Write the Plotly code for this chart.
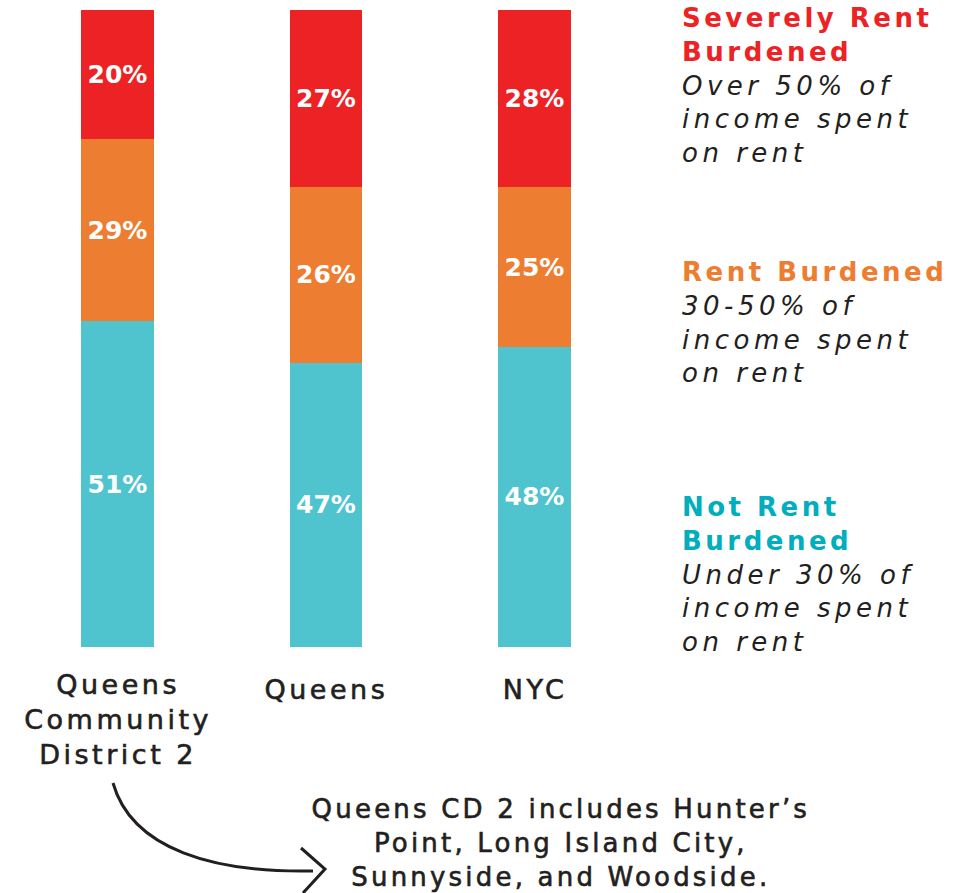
import plotly.graph_objects as go

W, H = 967, 893

# ---- data ----
categories = ["Queens Community District 2", "Queens", "NYC"]
cat_labels = ["Queens<br>Community<br>District 2", "Queens", "NYC"]
not_burdened = [51.1, 44.6, 47.1]
rent_burdened = [28.6, 27.6, 25.1]
severe_burdened = [20.3, 27.8, 27.8]
not_labels = ["51%", "47%", "48%"]
rent_labels = ["29%", "26%", "25%"]
severe_labels = ["20%", "27%", "28%"]

RED = "#ED2224"
ORANGE = "#ED7D31"
TEAL = "#4FC4CF"
TEAL_TXT = "#00AEBD"
DARK = "#231F20"
FONT = "DejaVu Sans"

def px(x):
    return x / W

def py(y):
    return 1 - y / H

xpos = [0, 1, 2]
fig = go.Figure()
for vals, labs, col in [(not_burdened, not_labels, TEAL),
                        (rent_burdened, rent_labels, ORANGE),
                        (severe_burdened, severe_labels, RED)]:
    fig.add_trace(go.Bar(
        x=xpos, y=vals, width=0.35, marker=dict(color=col, line=dict(width=0)),
        text=labs, textposition="inside", insidetextanchor="middle",
        textangle=0, constraintext="none",
        textfont=dict(family=FONT, size=25, color="white", weight="bold"),
        hoverinfo="skip", showlegend=False))

ann = []
# category labels
cat_y = [719, 689, 689]
for i, lab in enumerate(cat_labels):
    ann.append(dict(x=xpos[i], xref="x", y=py(cat_y[i]), yref="paper",
                    text=lab, showarrow=False, xanchor="center", yanchor="middle",
                    font=dict(family=FONT, size=27, color=DARK)))

def block(head, color, sub):
    return (f"<span style='color:{color}'><b>{head}</b></span><br>"
            f"<i>{sub}</i>")

ann.append(dict(x=px(680), y=py(86), xref="paper", yref="paper", xanchor="left",
                yanchor="middle", align="left", showarrow=False,
                text=block("Severely Rent<br>Burdened", RED, "Over 50% of<br>income spent<br>on rent"),
                font=dict(family=FONT, size=26, color=DARK)))
ann.append(dict(x=px(680), y=py(323), xref="paper", yref="paper", xanchor="left",
                yanchor="middle", align="left", showarrow=False,
                text=block("Rent Burdened", ORANGE, "30-50% of<br>income spent<br>on rent"),
                font=dict(family=FONT, size=26, color=DARK)))
ann.append(dict(x=px(680), y=py(574), xref="paper", yref="paper", xanchor="left",
                yanchor="middle", align="left", showarrow=False,
                text=block("Not Rent<br>Burdened", TEAL_TXT, "Under 30% of<br>income spent<br>on rent"),
                font=dict(family=FONT, size=26, color=DARK)))
ann.append(dict(x=px(561), y=py(843), xref="paper", yref="paper", xanchor="center",
                yanchor="middle", align="center", showarrow=False,
                text="Queens CD 2 includes Hunter’s<br>Point, Long Island City,<br>Sunnyside, and Woodside.",
                font=dict(family=FONT, size=26, color=DARK)))

def pt(x, y):
    return f"{px(x):.5f},{py(y):.5f}"

curve = f"M {pt(113,783)} C {pt(132,850)} {pt(215,873)} {pt(313,871)}"
chev = f"M {pt(301,848)} L {pt(325,869)} L {pt(303,893)}"
shapes = [dict(type="path", xref="paper", yref="paper", path=p,
               line=dict(color=DARK, width=3)) for p in (curve, chev)]

fig.update_layout(
    width=W, height=H, margin=dict(l=0, r=0, t=0, b=0),
    paper_bgcolor="white", plot_bgcolor="white",
    barmode="stack",
    xaxis=dict(range=[-117.5 / 208.5, (W - 117.5) / 208.5], visible=False, fixedrange=True),
    yaxis=dict(range=[0, 100], domain=[py(647), py(10)], visible=False, fixedrange=True),
    annotations=ann, shapes=shapes,
)

# letter tracking / medium weight like the original typography
js = """
var gd = document.getElementById('{plot_id}');
gd.querySelectorAll('text.annotation-text').forEach(function(t){
  t.style.letterSpacing = '3.5px';
  t.querySelectorAll('tspan').forEach(function(s){
    if (s.style.fontStyle === 'italic') { s.style.letterSpacing = '4.5px'; }
  });
});
gd.querySelectorAll('g.annotation').forEach(function(g){
  var i = g.getAttribute('data-index');
  if (i === '0' || i === '1' || i === '2' || i === '6') {
    g.querySelectorAll('text.annotation-text').forEach(function(t){
      t.style.stroke = '#231F20';
      t.style.strokeWidth = '0.6px';
      if (i === '6') { t.style.letterSpacing = '3.2px'; }
    });
  }
});
"""

fig.write_html("out.html", post_script=js)
